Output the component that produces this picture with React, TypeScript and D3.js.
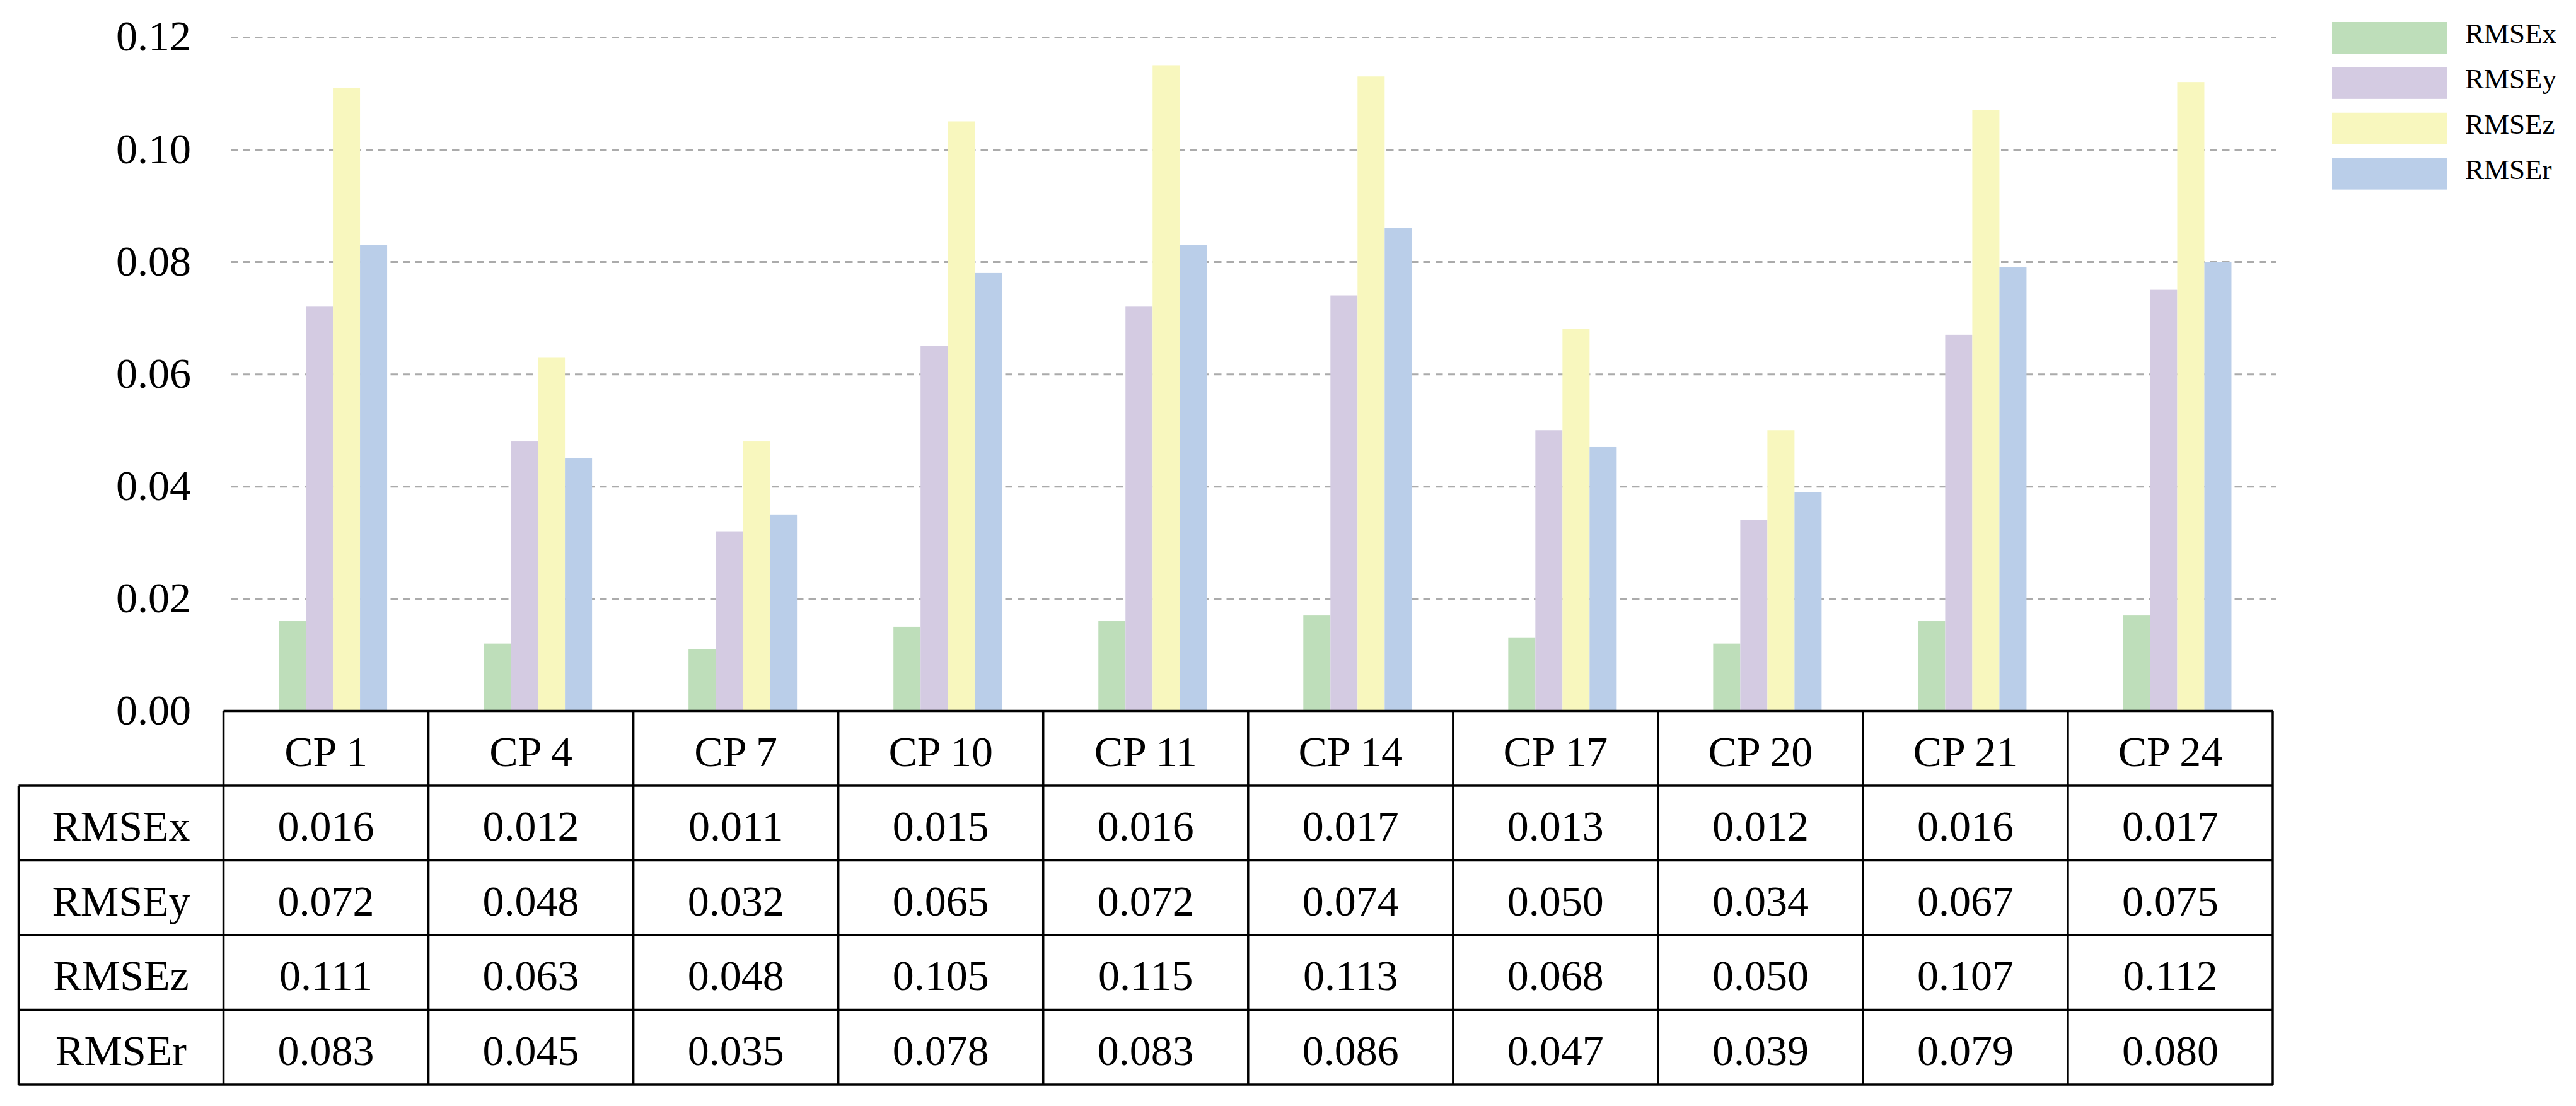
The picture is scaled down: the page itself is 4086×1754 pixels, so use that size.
import React, { useEffect, useRef } from 'react';
import * as d3 from 'd3';

const categories = ['CP 1', 'CP 4', 'CP 7', 'CP 10', 'CP 11', 'CP 14', 'CP 17', 'CP 20', 'CP 21', 'CP 24'];
const seriesNames = ['RMSEx', 'RMSEy', 'RMSEz', 'RMSEr'];
const rmseX = [0.016, 0.012, 0.011, 0.015, 0.016, 0.017, 0.013, 0.012, 0.016, 0.017];
const rmseY = [0.072, 0.048, 0.032, 0.065, 0.072, 0.074, 0.050, 0.034, 0.067, 0.075];
const rmseZ = [0.111, 0.063, 0.048, 0.105, 0.115, 0.113, 0.068, 0.050, 0.107, 0.112];
const rmseR = [0.083, 0.045, 0.035, 0.078, 0.083, 0.086, 0.047, 0.039, 0.079, 0.080];
const yTicks = [0, 0.02, 0.04, 0.06, 0.08, 0.10, 0.12];
const colors = ['#bedeba', '#d4cbe2', '#f8f7be', '#bacee9'];

const W = 4086;
const H = 1754;
const FONT = '"Liberation Serif", "Times New Roman", serif';

export default function App() {
  const svgRef = useRef<SVGSVGElement>(null);

  useEffect(() => {
    if (!svgRef.current) return;
    const values = [rmseX, rmseY, rmseZ, rmseR];

    const svg = d3.select(svgRef.current);
    svg.selectAll('*').remove();

    // y scale: zero sits on the top edge of the table
    const y = d3.scaleLinear().domain([0, 0.12]).range([1127.5, 58.9]);

    // table columns (first column holds the row labels)
    const col = d3.scaleBand<string>()
      .domain(['__label', ...categories])
      .range([29.5, 3605]);
    const rows = d3.scaleBand<string>()
      .domain(['__head', ...seriesNames])
      .range([1127.5, 1720]);

    const groupW = 172;
    const inner = d3.scaleBand<string>().domain(seriesNames).range([0, groupW]);
    const groupOffset = (col.bandwidth() - groupW) / 2 + 11;

    // gridlines
    const grid = svg.append('g').attr('transform', 'translate(366,0)');
    grid.call(d3.axisLeft(y).tickValues(yTicks.slice(1)).tickSize(-(3610 - 366)).tickFormat(() => ''))
      .select('.domain').remove();
    grid.selectAll('.tick line')
      .attr('stroke', '#ababab')
      .attr('stroke-width', 3)
      .attr('stroke-dasharray', '11.5,8');

    // y labels
    const yAxis = svg.append('g').attr('transform', 'translate(303,0)');
    yAxis.call(d3.axisLeft(y).tickValues(yTicks).tickSize(0).tickPadding(0).tickFormat(d3.format('.2f')))
      .select('.domain').remove();
    yAxis.selectAll('.tick text')
      .attr('font-family', FONT)
      .attr('font-size', 68)
      .attr('fill', '#000')
      .attr('dy', 21);

    // bars
    seriesNames.forEach((s, si) => {
      svg.append('g')
        .selectAll('rect')
        .data(categories.map((c, i) => ({ c, v: values[si][i] })))
        .join('rect')
        .attr('x', d => col(d.c)! + groupOffset + inner(s)!)
        .attr('y', d => y(d.v))
        .attr('width', inner.bandwidth())
        .attr('height', d => y(0) - y(d.v))
        .attr('fill', colors[si]);
    });

    // data table
    const table = svg.append('g');
    const lineStyle = (sel: any) => sel.attr('stroke', '#000').attr('stroke-width', 3.5).attr('fill', 'none');
    const left = col.range()[0];
    const right = col.range()[1];
    const headLeft = col(categories[0])!;

    // horizontal lines
    table.append('line').call(lineStyle)
      .attr('x1', headLeft).attr('x2', right)
      .attr('y1', rows('__head')!).attr('y2', rows('__head')!);
    seriesNames.forEach(s => {
      table.append('line').call(lineStyle)
        .attr('x1', left).attr('x2', right)
        .attr('y1', rows(s)!).attr('y2', rows(s)!);
    });
    table.append('line').call(lineStyle)
      .attr('x1', left).attr('x2', right)
      .attr('y1', rows.range()[1]).attr('y2', rows.range()[1]);

    // vertical lines
    table.append('line').call(lineStyle)
      .attr('x1', left).attr('x2', left)
      .attr('y1', rows(seriesNames[0])!).attr('y2', rows.range()[1]);
    [...categories, '__end'].forEach(c => {
      const x = c === '__end' ? right : col(c)!;
      table.append('line').call(lineStyle)
        .attr('x1', x).attr('x2', x)
        .attr('y1', rows('__head')!).attr('y2', rows.range()[1]);
    });

    const cellText = (x: number, rowKey: string, text: string) => {
      table.append('text')
        .attr('x', x)
        .attr('y', rows(rowKey)! + rows.bandwidth() / 2 + 28)
        .attr('text-anchor', 'middle')
        .attr('font-family', FONT)
        .attr('font-size', 68)
        .attr('fill', '#000')
        .text(text);
    };

    categories.forEach(c => cellText(col(c)! + col.bandwidth() / 2, '__head', c));
    seriesNames.forEach((s, si) => {
      cellText(col('__label')! + col.bandwidth() / 2, s, s);
      categories.forEach((c, i) => cellText(col(c)! + col.bandwidth() / 2, s, d3.format('.3f')(values[si][i])));
    });

    // legend
    const legend = svg.append('g').attr('transform', 'translate(3699,35)');
    const ly = d3.scaleBand<string>().domain(seriesNames).range([0, 287.5]);
    seriesNames.forEach((s, si) => {
      legend.append('rect')
        .attr('x', 0)
        .attr('y', ly(s)!)
        .attr('width', 182)
        .attr('height', 50)
        .attr('fill', colors[si]);
      legend.append('text')
        .attr('x', 211)
        .attr('y', ly(s)! + 33)
        .attr('font-family', FONT)
        .attr('font-size', 45)
        .attr('fill', '#000')
        .text(s);
    });
  }, []);

  return (
    <svg
      ref={svgRef}
      width={W}
      height={H}
      viewBox={`0 0 ${W} ${H}`}
      style={{ position: 'absolute', left: 0, top: 0, background: '#fff', display: 'block' }}
    />
  );
}
